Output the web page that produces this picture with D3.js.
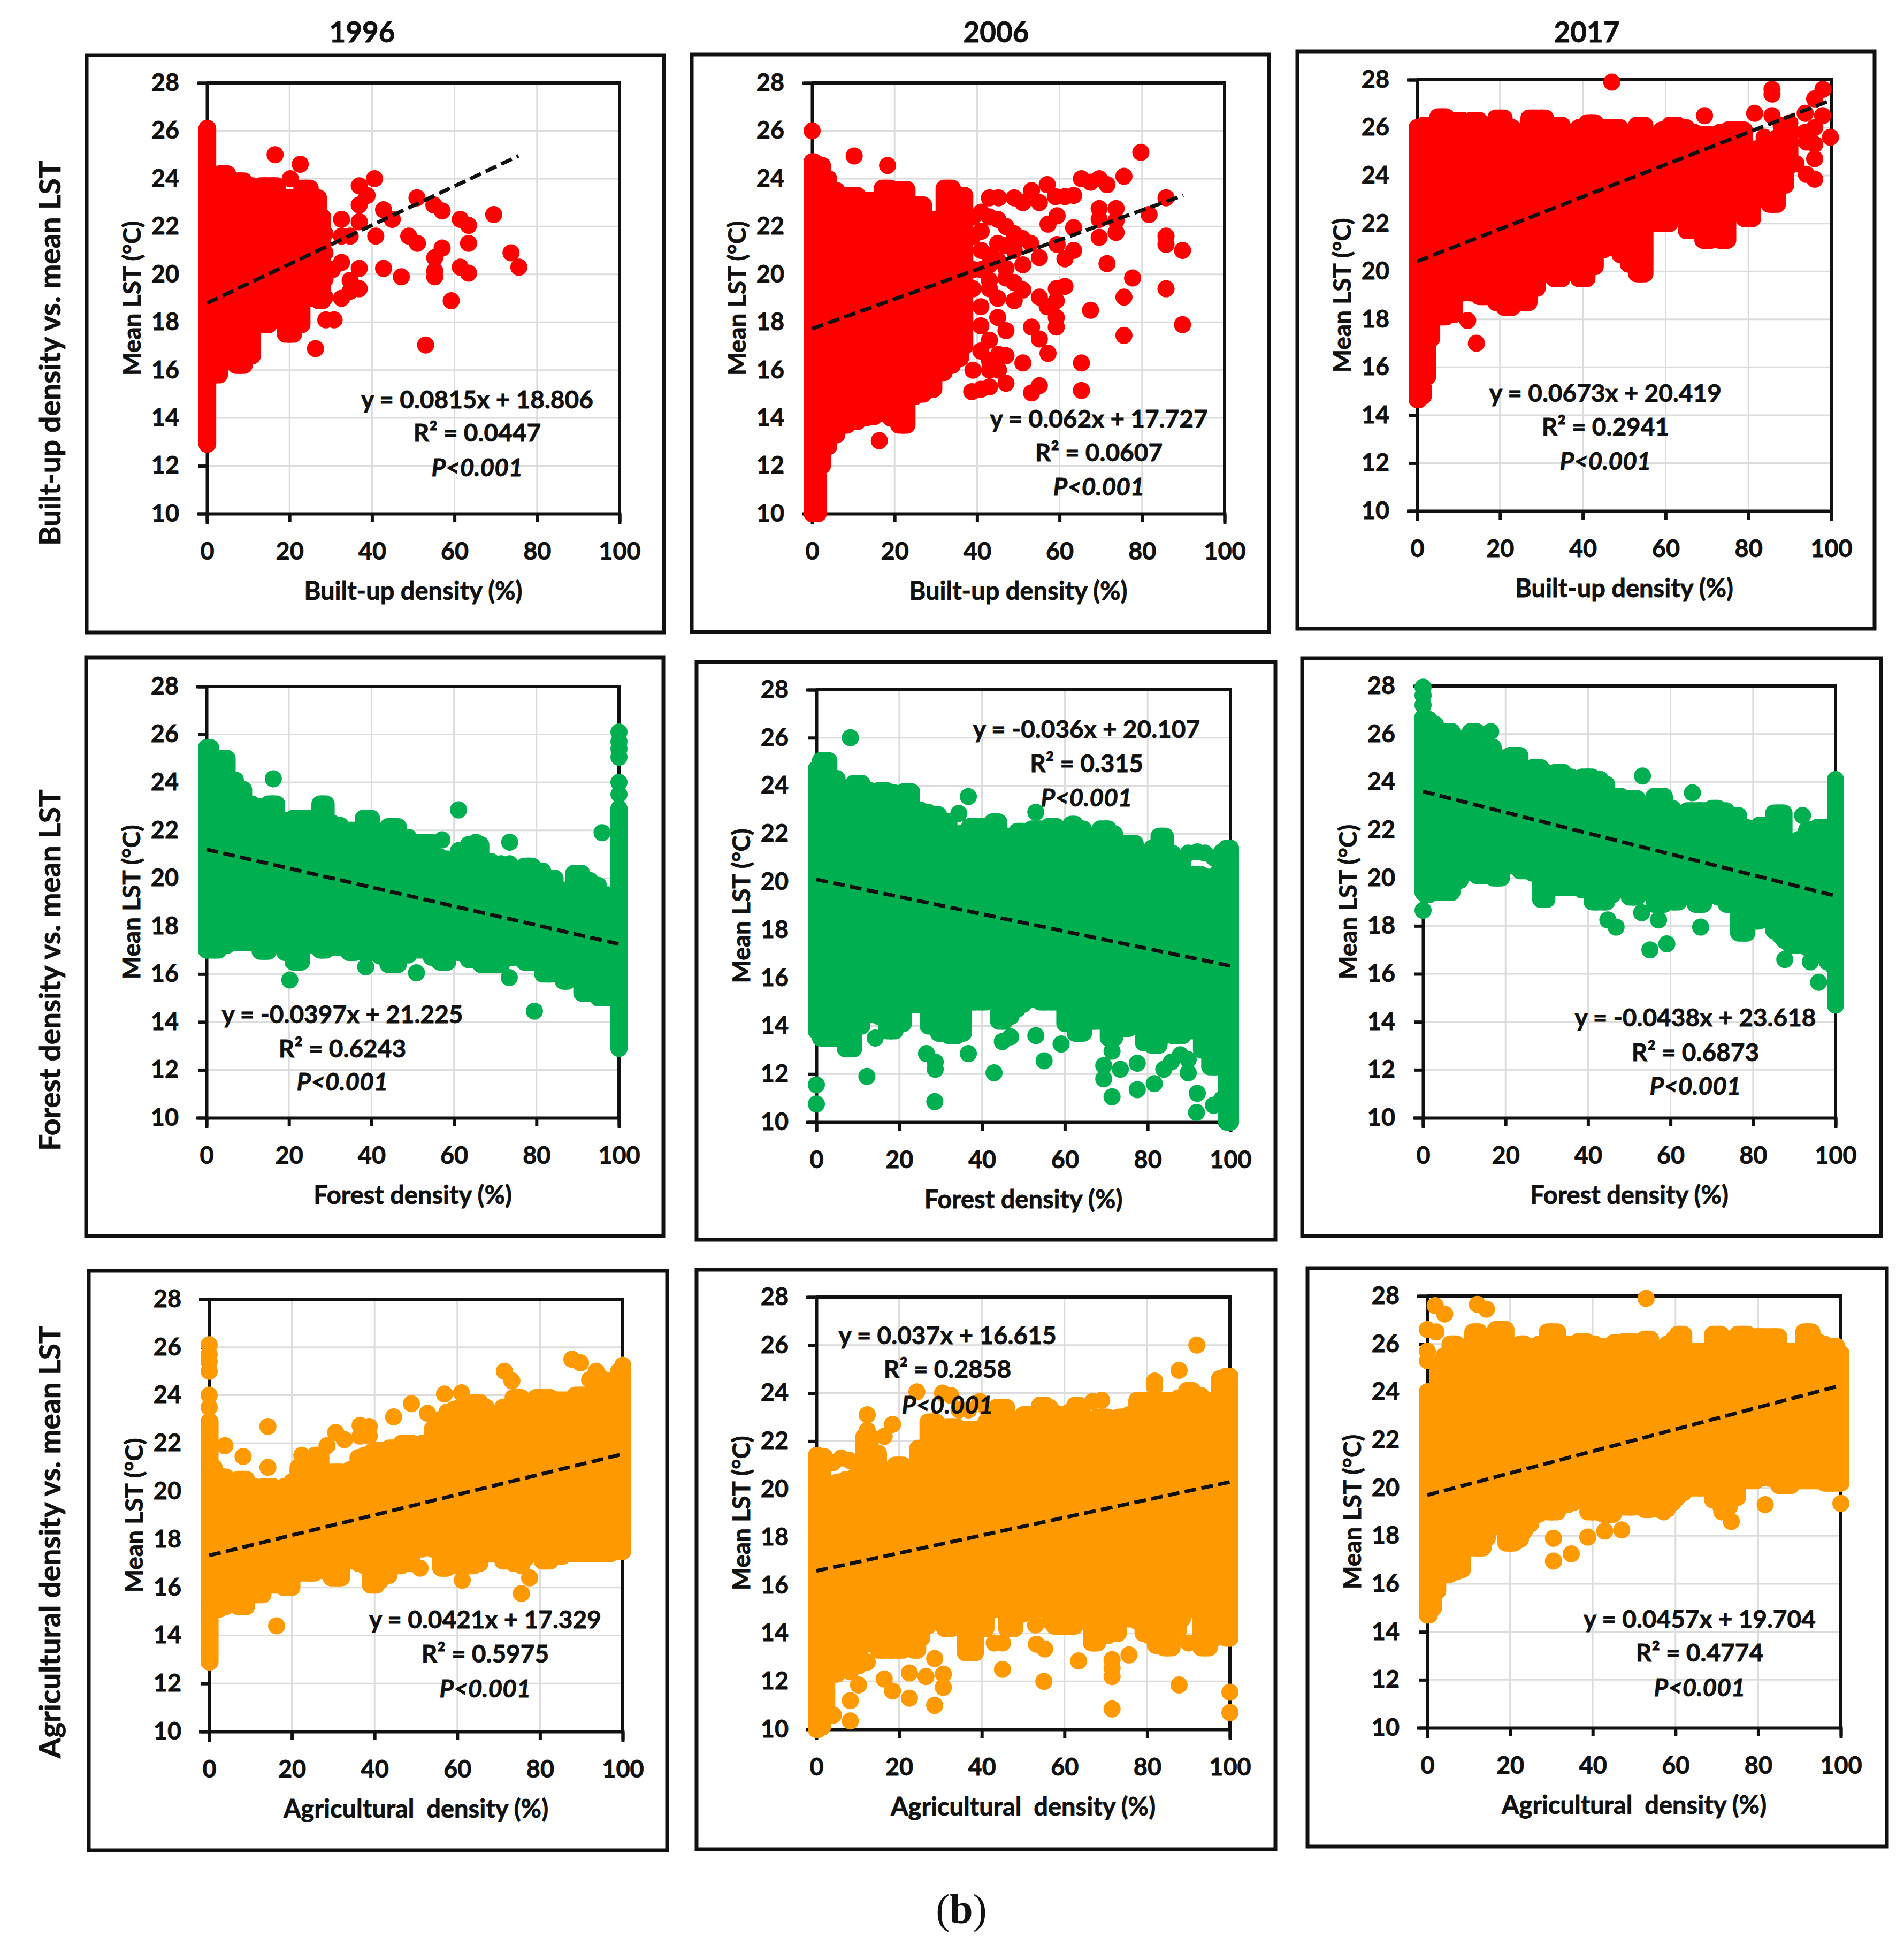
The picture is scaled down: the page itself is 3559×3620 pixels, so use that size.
<!DOCTYPE html>
<html lang="en">
<head>
<meta charset="UTF-8">
<title>Density vs. mean LST</title>
<script src="https://d3js.org/d3.v7.min.js"></script>
<style>
html, body { margin: 0; background: #fff; }
text { font-family: Lato, "Open Sans", sans-serif; font-weight: 700; fill: #111; stroke: #111; stroke-width: 0.8px; }
</style>
</head>
<body>
<div id="chart"></div>
<script>
var yearLabels = ["1996", "2006", "2017"];
var rowLabels = ["Built-up density vs. mean LST", "Forest density vs. mean LST", "Agricultural density vs. mean LST"];
var xTitles = ["Built-up density (%)", "Forest density (%)", "Agricultural  density (%)"];
var yTitle = "Mean LST (°C)";
var xTicks = [0, 20, 40, 60, 80, 100];
var yTicks = [10, 12, 14, 16, 18, 20, 22, 24, 26, 28];

// the clouds are solid colour in the picture, single points can't be told apart inside,
// so each one is read as its outline: [x, lowest y, highest y]. Points that stand alone are in the *Dots arrays.
var built1996Cloud = [[0,12.9,26.1],[0.3,15.8,24.0],[2,15.8,24.0],[4,16.5,24.2],[6,16.6,23.4],[8,16.2,23.9],[10,16.6,23.7],[12,18.1,23.4],[14,17.9,23.7],[16,18.3,23.7],[18,18.1,23.0],[20,17.5,23.2],[22,17.9,23.0],[24,19,23.6],[26,19,23.2],[28,18.9,22.4]];
var built1996Dots = [[16.5,25],[22.6,24.6],[20.2,24],[40.6,24],[36.9,23.7],[38.8,23.3],[36.9,22.9],[50.9,23.2],[42.8,22.7],[44.9,22.3],[55,22.9],[57,22.65],[61.4,22.3],[63.4,22.05],[69.5,22.5],[32.6,22.3],[36.9,22.2],[32.6,21.6],[34.7,21.6],[40.9,21.6],[48.9,21.6],[51,21.3],[63.4,21.3],[57,21.1],[73.7,20.9],[55.2,20.7],[75.6,20.3],[61.4,20.3],[63.4,20.05],[55.2,20.15],[55.2,19.9],[42.8,20.25],[47.1,19.9],[36.9,20.25],[32.6,20.5],[34.7,19.75],[36.9,19.4],[34.7,19.3],[32.6,19],[59.2,18.9],[28.8,18.1],[30.8,18.1],[26.3,16.9],[53,17.05],[28.6,21.7],[28.6,20.9],[28.6,19.8],[30.4,20.2],[28.6,19.05],[22.4,18.3],[10.2,17.4]];
var built2006Cloud = [[0,10,24.7],[1,10,24.6],[2,12,24.55],[3,12.8,24],[5,13.3,23.5],[7,13.7,23.2],[10,13.85,23.3],[12,14,22.8],[14,14.05,23.1],[16,14.2,22.9],[18,14.6,23.6],[20,14,23],[22,13.7,23.55],[24,14.9,22.9],[26,15,22.9],[28,15.2,22.2],[31,15.9,22.3],[33,16.2,23.6],[35,16.5,22.9],[37,17,23.3]];
var built2006Dots = [[0,26],[10.2,24.95],[18.3,24.55],[79.7,25.1],[75.6,24.1],[65.3,24],[67.5,23.85],[69.6,24],[71.5,23.75],[57,23.75],[53.2,23.5],[59,23.25],[61.3,23.25],[63.4,23.3],[43,23.2],[45.2,23.2],[49,23.2],[51.1,23],[55.1,23],[85.8,23.2],[69.6,22.75],[73.7,22.75],[81.7,22.5],[59.4,22.45],[69.6,22.3],[73.7,22.25],[63.4,21.95],[57.2,22.1],[73.7,21.75],[69.6,21.55],[85.8,21.6],[85.8,21.25],[89.8,21],[63.4,21],[61.3,20.65],[59.4,21.25],[55.1,20.7],[51.1,20.4],[71.5,20.45],[77.7,19.85],[61.3,19.5],[59.2,19.4],[85.8,19.4],[55.1,19.05],[75.6,19.05],[59.2,18.9],[57,18.65],[67.5,18.5],[59.2,18.2],[45,18.2],[59.2,17.8],[53.2,17.8],[89.8,17.9],[47,17.65],[55.1,17.3],[75.6,17.45],[43,17.25],[40.9,17.85],[57.2,16.7],[40.9,16.8],[51.1,16.3],[65.3,16.3],[47,16.6],[45.2,16.65],[43,16.4],[39,16],[43,16],[45.2,16],[47,15.45],[43,15.3],[40.9,15.2],[38.7,15.1],[55.1,15.35],[53.2,15.05],[65.3,15.15],[16.3,13.05],[49,18.9],[45,19],[43,19.4],[43,19.75],[47,19.85],[49,19.65],[51.1,19.35],[47,20.25],[40.9,18.65],[39,19.4],[30.4,17.2],[32.8,16.6],[34.7,16.8],[36.6,17.1],[35.2,18.3],[36.6,18.2],[30.4,15.9],[39,21.6],[41,21.8],[41,21],[43,22.4],[45,22.3],[47,22],[49,21.7],[45,21.3],[47,21.2],[49,21],[43,20.8],[45,20.6],[51,21.5],[41,20.2],[39,20.2],[43,20.4],[53,21.3],[39,22.4],[41,22.6]];
var built2017Cloud = [[0,14.65,26],[1,14.8,26],[2,15.6,26.1],[3,17.2,25.9],[4,18.2,25.8],[6,18.1,26.45],[8,18.2,25.7],[10,19.1,26.3],[12,19.2,25.6],[14,19.1,26.3],[16,18.95,25.7],[18,19.3,25.8],[20,18.7,26.4],[22,18.5,26],[24,19.5,25.2],[26,18.7,25.1],[28,19.3,26.4],[30,20.3,26.4],[32,20.2,25.5],[34,19.7,26.1],[36,20.2,25.4],[38,20.3,25.8],[40,19.7,26],[42,20.2,26.2],[44,20.9,25.5],[46,21.2,26],[48,21,26],[50,20.7,25.8],[52,20.3,25.5],[54,19.9,26.1],[56,22.2,25.4],[58,22,25.2],[60,22,25.9],[62,22.2,26.1],[64,22.8,26],[66,21.7,25.8],[68,21.8,25.6],[70,21.3,25.7],[72,21.8,25.6],[74,21.3,25.8],[76,22.6,25.9],[78,22.7,25.9],[80,22.2,25],[82,23.6,25.1],[84,23.4,25.2],[86,22.8,25.3],[88,23.6,25.6],[90,24.4,26]];
var built2017Dots = [[85.7,27.6],[85.7,27.4],[47,27.9],[98,27.6],[96,27.2],[93.7,26.6],[97.9,26.5],[96,26],[81.5,26.6],[85.7,26.5],[69.4,26.5],[99.8,25.6],[94,25.4],[96,25.3],[90,26.2],[87.9,26.1],[96,24.7],[96,23.85],[94,24.05],[91.5,24.5],[87.9,23.6],[85.7,22.8],[87.9,24.7],[90,25.3],[83.8,25.6],[54.1,20.9],[54.1,21.5],[52.7,20.4],[50.7,20.75],[14.3,17],[12.2,17.95],[93.7,25.8]];

var forest1996Cloud = [[0,17,25.45],[2,17,24.6],[4,17.2,25],[6,17.3,24.1],[8,17.3,23.7],[10,17.3,23.1],[12,17.3,23],[14,16.95,22.9],[16,17.4,23.1],[18,17.5,22.3],[20,16.9,22.4],[22,16.5,22.5],[24,17.3,22.5],[27,17.2,22.4],[28,17,23.1],[30,17.1,22.3],[31,17.2,22.2],[34,17.1,22],[35,16.9,22],[37,17,21],[39,16.9,22.5],[41,17.3,21.3],[43,16.75,21.3],[45,16.4,22.15],[48,16.8,21.7],[50,17,21.3],[53,17,21.5],[56,16.7,20.9],[57,16.5,20.8],[60,17.2,20.6],[62,16.9,20.5],[65,16.6,21.4],[68,16.4,20.7],[70,16.4,20.5],[73,16.7,20.3],[76,16.9,19.9],[78,16.5,20.5],[80,16.5,20.3],[83,16,20],[86,16,19.5],[87,15.7,19.2],[88,15.9,19],[90,16,20.2],[92,15.2,19.9],[94,15.3,19.7],[96,15,19.3],[99,15.3,19.2],[100,15.3,19.2],[100,12.9,22.9]];
var forest1996Dots = [[16.2,24.15],[61.1,22.85],[95.9,21.9],[61.1,21.15],[57.1,21.6],[73.5,21.5],[65.3,21.5],[71.4,20.6],[73.5,20.6],[20.2,15.75],[38.6,16.3],[50.9,16.05],[73.4,15.85],[79.5,14.45],[48.9,16.8],[100,26.1],[100,25.7],[100,25.4],[100,25.05],[100,24],[100,23.5]];
var forest2006Cloud = [[0,13.8,24.7],[2,13.5,25.05],[4,13.5,24.3],[6,13.6,23.8],[8,13.05,23.8],[10,14,24.1],[12,15,23.8],[14,14.5,23.7],[16,14.4,23.8],[18,13.8,23.7],[20,14.1,23.6],[22,15,23.75],[24,14.9,23],[26,15,22.9],[28,14,22.8],[31,13.7,22.5],[33,13.6,21.9],[35,13.7,22],[36,15,22],[38,15,22.3],[40,15,22.3],[42,15.3,21.7],[43,15.2,22.5],[45,14.2,21.9],[46,14.4,21.9],[48,14.7,21.7],[49,14.9,22.1],[51,15.1,21.8],[53,15.1,22.2],[55,15,21.7],[57,15,22.3],[59,15.2,21.7],[61,14.1,21.7],[62,14.1,22.4],[63,13.7,22.2],[66,14.4,21.6],[67,14.2,21.6],[70,14.6,22.2],[71,13.5,22],[73,14,21.6],[75,13.9,21.1],[76,14,21.6],[78,14,20.9],[80,13.3,20.9],[82,13.2,21.4],[83.5,13.6,21.9],[85,13.9,21.2],[87,13.6,20.8],[90,13.8,20.3],[92,14.5,20.3],[94,13,20.2],[96,12.3,20.2],[98,13,20.4],[100,10,21.4]];
var forest2006Dots = [[8.2,26],[36.7,23.55],[34.4,22.85],[53,22.9],[14.2,13.5],[12.2,11.9],[0,11.55],[0,10.75],[26.6,12.85],[28.7,12.5],[28.7,12.2],[28.6,10.85],[36.7,12.85],[42.9,12.05],[44.9,13.35],[46.9,13.55],[53,13.6],[59.1,13.25],[55,12.55],[71.4,12.95],[69.4,12.35],[69.4,11.8],[73.4,12.2],[77.5,12.45],[77.5,11.35],[71.4,11.05],[81.6,11.6],[83.9,12.2],[85.7,12.5],[87.9,12.8],[89.8,12.05],[89.8,12.6],[92,11.2],[91.8,10.4],[95.9,10.7],[97.9,10.95],[89.8,21.2],[92,21.25],[93.8,21.2],[96,21],[97.9,21.25]];
var forest2017Cloud = [[0,19.4,26.7],[1,19.3,26.6],[2,20,26.4],[4,19.4,25.8],[6,19.4,26.1],[8,19.9,25.8],[10,20.2,25.6],[11,20.3,25.5],[12,20.3,26.1],[14,20.1,25.1],[16,20.6,25.45],[18,20,25],[20,20.6,25],[22,20.5,25.1],[25,20.3,24.5],[28,20.2,24.6],[29,19.1,24.4],[31,19.6,24.2],[33,19.6,24.4],[35,19.6,24.2],[37,19.6,23.7],[40,19.5,24.2],[42,19,24.1],[44,19,23.9],[45,19.3,23.2],[47,19.5,23.4],[49,19.6,23],[51,19.2,23.3],[53,19.6,22.7],[55,20,22.8],[57,18.9,23.4],[60,19.4,22.9],[61,19,22.7],[63,19.8,22.5],[65,20,22.8],[67,18.9,22.8],[69,19.4,22.8],[71,19.3,22.9],[72,19.2,22.8],[75,18.9,22.6],[78,17.7,22.1],[79,18.7,21.8],[80,18.6,21.5],[81,18.2,22],[82,18.4,22.2],[84,18.7,21.4],[86,17.8,22.7],[87,17.6,22.7],[88,17.4,21.5],[90,17.2,21.5],[92,17.2,21.6],[94,17.1,22],[97,16.8,22.1],[99,16.5,21.5],[100,16.3,21.5],[100,14.7,23.9]];
var forest2017Dots = [[0,27.95],[0,27.6],[0,27.2],[0,18.65],[16.4,26.1],[53.2,24.25],[65.3,23.55],[92,22.6],[87.7,16.6],[93.9,16.5],[95.9,15.65],[44.8,18.25],[46.8,17.95],[53,18.55],[57.1,18.25],[67.3,17.95],[55,17],[59.1,17.25],[77.5,17.8],[100,24.1]];

var agri1996Cloud = [[0,12.9,22.9],[0.4,15.1,21],[2,15.1,19.7],[3,15.2,20.6],[5,15.6,20.1],[6,15.5,20],[8,15.2,20.5],[10,15.7,20.2],[12,15.7,20.1],[14,16.1,20.2],[17,16.1,20.1],[19,16,20.2],[21,16.6,20.4],[22,16.6,21],[24,16.6,20.5],[25,16.6,20.7],[26,16.7,21.5],[28,16.7,20.7],[31,16.4,20.8],[33,17.1,20.7],[35,17.1,20.9],[37,17,21.4],[38,16.9,21.5],[40,16.1,21.6],[41,16.3,21.7],[42,16.5,21.7],[45,16.9,21.8],[48,17,22],[50,17.6,21.4],[53,17.8,22],[55,17.6,22.6],[57,16.8,23],[58,17,23.3],[60,16.9,23.4],[61,16.9,23.5],[63,16.9,23],[65,17,23.7],[66,17.4,23.5],[68,17.4,23.2],[70,17.4,22.8],[72,17.1,23.5],[75,17,23.9],[76,17.2,22.9],[77,17.5,23.2],[78,17.5,23.6],[80,17.6,23.9],[81,17.1,23.9],[84,17.3,23.8],[87,17.4,23.8],[90,17.4,24],[92,17.4,23.5],[94,17.4,24.7],[96,17.4,24],[98,17.5,24.6],[100,17.5,25]];
var agri1996Dots = [[0,26.1],[0,25.7],[0,25.4],[0,25],[0,24],[0,23.5],[87.7,25.5],[89.8,25.35],[100,25.25],[93.6,25],[71.4,25],[73.2,24.6],[92,24.65],[14.2,22.7],[3.8,21.9],[8.2,21.45],[14.2,21],[22.4,21.5],[28.5,21.9],[30.6,22.45],[32.7,22.15],[36.5,22.75],[38.7,22.7],[38.7,22.3],[36.5,22.3],[44.6,23.1],[48.9,23.65],[52.8,23.25],[56.9,24.05],[61,24.1],[65,23.65],[77.5,16.4],[75.5,15.75],[75.5,16.9],[61.2,16.3],[51,16.8],[16.3,14.4]];
var agri2006Cloud = [[0,10,21.4],[1,10.1,21.3],[2,11,20.1],[3,12.4,20.1],[4,12.3,20.2],[6,12.5,20.3],[8,13.2,20.4],[10,13.3,20.5],[11,13.5,20.8],[12,13.6,22.2],[14,13.7,21.5],[16,13.3,20.7],[18,13.3,20.5],[20,13.3,21],[22,14,20.6],[23,13.6,20.2],[24,13.3,20.8],[25,13.8,21.7],[26,14.3,21.7],[28,14.5,22.8],[30,14.9,22.4],[32,14.2,22.6],[33,14.6,22.6],[35,15,22.5],[37,13.2,22.5],[40,14.2,22.5],[42,15.2,22.8],[45,15,23.4],[47,14.2,22.8],[49,14.8,22.9],[51,15,23.1],[53,15,22.5],[55,15.2,23.5],[56,15.3,23.4],[57,14.5,23.2],[58,14.3,23.1],[60,14.3,22.9],[62,14.3,23.2],[63,14.7,23.5],[64,15,23.1],[65,14.9,22.6],[66,14.8,22.8],[67,13.6,22.9],[69,13.9,23],[70,13.9,23],[71,14,22.8],[72,14,22.8],[74,15,23],[77,14.6,23.1],[78,14.5,23.7],[80,14,23.7],[81,13.9,23.6],[83,13.5,23.6],[85,13.4,23.7],[87,14.1,23.7],[88,14.6,23.8],[89,15,23.8],[90,15,24.1],[92,15,23.9],[94,13.4,23.7],[96,13.8,23.5],[97,14.3,23.4],[98,14.8,24.6],[100,13.8,24.7]];
var agri2006Dots = [[2,21.35],[4,21.1],[6,21.3],[8,21.2],[10,21.1],[11,21.1],[92,26],[87.7,24.95],[81.8,24.5],[81.8,24.25],[69,23.7],[66.8,23.65],[12.3,23.1],[12.3,22.45],[16.4,22.2],[18.4,22.7],[24.3,24.05],[30.5,24],[32.5,23.9],[34.5,23.3],[36.8,23.3],[39.5,23.65],[41.2,23.35],[28.6,12.95],[30.7,12.3],[30.7,11.75],[26.5,12.2],[22.5,12.35],[22.5,11.3],[28.6,11],[16.4,12.1],[18.4,11.6],[10.2,11.85],[8.2,11.2],[8.2,10.35],[4.1,10.6],[1.8,10.9],[12.3,12.8],[10.3,12.65],[8.2,12.4],[43,13.6],[45,13.6],[45,12.5],[47,14.2],[53,14.35],[53.2,13.55],[55.2,13.35],[55,12],[63.4,12.85],[71.5,12.9],[71.5,12.55],[71.5,12.2],[71.5,10.85],[75.6,13.1],[87.7,11.85],[90,13.6],[100,11.55],[100,10.7],[32.7,14.2]];
var agri2017Cloud = [[0,14.7,24],[1,15,24],[2,15.7,24],[3,16.6,25],[5,16.4,25.5],[6,16.5,26],[8,16.6,25.2],[9,17.6,25.4],[10,17.5,25.9],[12,17.5,26.5],[13,17.5,25.9],[14,17.9,25.7],[15,18.4,25.7],[18,18.9,26.6],[20,17.7,25.5],[22,17.9,25.8],[23,18.2,26],[24,18.5,25.9],[26,18.9,25.8],[28,19.2,26],[30,19,26.5],[33,19.3,26],[35,19.4,25.5],[36,19.5,25.8],[37,19.6,26.1],[38,19.7,26.1],[39,19.3,26],[40,19,26],[41,19,25.9],[44,18.9,25.5],[46,19.7,26.05],[49,19.2,26.1],[51,19.6,25.6],[52,19.8,25.9],[53,19.1,26.2],[55,19.6,25.7],[57,19.1,25.5],[59,19.4,26],[60,19.6,26.2],[61,19.8,26.4],[63,20,25.4],[66,20,25.7],[68,20.2,25.2],[70,19.5,26.4],[72,19.2,26.2],[74,19.6,25.5],[76,20.3,26.4],[79,20.3,25.7],[80,20.4,26.3],[81,20.5,26.3],[84,20.4,26.3],[86,20.1,25.7],[90,20.3,25.7],[92,20.3,26.5],[94,20.3,26.1],[95,20.3,26],[97,20.2,25.9],[98,20.2,25.9],[100,20.2,25.6]];
var agri2017Dots = [[1.9,27.6],[4.2,27.25],[12.1,27.65],[14.3,27.45],[52.9,27.9],[0,26.6],[2.1,26.5],[0,25.7],[0,25.3],[100,19.35],[81.7,19.3],[73.5,18.6],[71.2,19],[57.2,19],[47,18.25],[42.9,18.2],[38.8,17.95],[30.5,17.9],[30.5,16.95],[34.8,17.25],[38.8,19],[42.9,18.9],[2.1,15.65],[22.5,17.85]];

var trendEnds = [
    [[0,18.8],[75.5,24.95]], [[0,17.73],[90,23.3]], [[0,20.42],[100,27.15]],
    [[0,21.2],[100,17.25]], [[0,20.1],[100,16.5]], [[0,23.6],[100,19.25]],
    [[0,17.33],[100,21.55]], [[0,16.6],[100,20.3]], [[0,19.7],[100,24.27]]
];
var equations = [
    "y = 0.0815x + 18.806", "y = 0.062x + 17.727", "y = 0.0673x + 20.419",
    "y = -0.0397x + 21.225", "y = -0.036x + 20.107", "y = -0.0438x + 23.618",
    "y = 0.0421x + 17.329", "y = 0.037x + 16.615", "y = 0.0457x + 19.704"
];
var rSquared = ["R² = 0.0447", "R² = 0.0607", "R² = 0.2941", "R² = 0.6243", "R² = 0.315", "R² = 0.6873", "R² = 0.5975", "R² = 0.2858", "R² = 0.4774"];
var pValue = "P<0.001";

var clouds = [built1996Cloud, built2006Cloud, built2017Cloud, forest1996Cloud, forest2006Cloud, forest2017Cloud, agri1996Cloud, agri2006Cloud, agri2017Cloud];
var dots = [built1996Dots, built2006Dots, built2017Dots, forest1996Dots, forest2006Dots, forest2017Dots, agri1996Dots, agri2006Dots, agri2017Dots];
var rowColors = ["#ff0000", "#00b050", "#ff9900"];

// pixel layout, the panels in the figure are pasted in slightly out of line
// frame [x0,y0,x1,y1], plot [x0,y0,x1,y1], stat [centre x, first line y, second, third]
var layout = [
    {frame:[162,103,1241,1182], plot:[387,155,1158,960],   stat:[892,745,807,872]},
    {frame:[1293,102,2372,1181], plot:[1518,155,2289,960], stat:[2054,781,844,908]},
    {frame:[2425,96,3504,1175], plot:[2649,149,3423,955],  stat:[3001,733,796,860]},
    {frame:[161,1229,1240,2310], plot:[386,1283,1157,2089], stat:[640,1894,1958,2020]},
    {frame:[1302,1237,2384,2317], plot:[1526,1289,2300,2097], stat:[2031,1361,1425,1489]},
    {frame:[2434,1230,3516,2310], plot:[2660,1282,3431,2089], stat:[3169,1900,1965,2028]},
    {frame:[166,2375,1247,3458], plot:[391,2428,1164,3236], stat:[907,3025,3089,3154]},
    {frame:[1302,2373,2384,3456], plot:[1526,2424,2299,3232], stat:[1771,2494,2557,2624]},
    {frame:[2444,2370,3527,3451], plot:[2668,2422,3441,3229], stat:[3177,3024,3087,3152]}
];
var titlePos = [677, 1862, 2966];
var rowLabelY = [660, 1813, 2882];
var dotR = 16;

var svg = d3.select("#chart").append("svg")
    .attr("width", 3559).attr("height", 3620)
    .style("display", "block");

yearLabels.forEach(function (d, i) {
    svg.append("text").attr("x", titlePos[i]).attr("y", 58)
        .attr("text-anchor", "middle").attr("dominant-baseline", "central")
        .attr("font-size", 53).text(d);
});

rowLabels.forEach(function (d, i) {
    svg.append("text")
        .attr("transform", "translate(92," + rowLabelY[i] + ") rotate(-90)")
        .attr("text-anchor", "middle").attr("dominant-baseline", "central")
        .attr("font-size", 55).text(d);
});

layout.forEach(function (box, i) {
    var row = Math.floor(i / 3);
    var color = rowColors[row];

    svg.append("rect")
        .attr("x", box.frame[0]).attr("y", box.frame[1])
        .attr("width", box.frame[2] - box.frame[0]).attr("height", box.frame[3] - box.frame[1])
        .attr("fill", "none").attr("stroke", "#111").attr("stroke-width", 7);

    var x = d3.scaleLinear().domain([0, 100]).range([box.plot[0], box.plot[2]]);
    var y = d3.scaleLinear().domain([10, 28]).range([box.plot[3], box.plot[1]]);
    var g = svg.append("g");

    // gridlines
    g.selectAll(".gx").data(xTicks.slice(1)).enter().append("line")
        .attr("x1", x).attr("x2", x).attr("y1", box.plot[1]).attr("y2", box.plot[3])
        .attr("stroke", "#dcdcdc").attr("stroke-width", 3);
    g.selectAll(".gy").data(yTicks.slice(1)).enter().append("line")
        .attr("y1", y).attr("y2", y).attr("x1", box.plot[0]).attr("x2", box.plot[2])
        .attr("stroke", "#dcdcdc").attr("stroke-width", 3);

    // top and right side of the plot
    g.append("path")
        .attr("d", "M" + x(0) + "," + y(28) + "H" + x(100) + "V" + y(10))
        .attr("fill", "none").attr("stroke", "#111").attr("stroke-width", 6);

    var xAxis = g.append("g").attr("transform", "translate(0," + box.plot[3] + ")")
        .call(d3.axisBottom(x).tickValues(xTicks).tickSize(16).tickPadding(38));
    var yAxis = g.append("g").attr("transform", "translate(" + box.plot[0] + ",0)")
        .call(d3.axisLeft(y).tickValues(yTicks).tickSize(16).tickPadding(36));
    [xAxis, yAxis].forEach(function (a) {
        a.attr("font-family", null).attr("font-size", null);
        a.selectAll("path, line").attr("stroke", "#111").attr("stroke-width", 6);
        a.select(".domain").attr("stroke-linecap", "square");
        a.selectAll("text").attr("font-size", 45).attr("fill", "#111");
    });

    // cloud outline filled in columns, with the round point size on its edge
    var area = d3.area()
        .x(function (d) { return x(d[0]); })
        .y0(function (d) { return y(d[1]); })
        .y1(function (d) { return y(d[2]); })
        .curve(d3.curveStep);
    g.append("path").datum(clouds[i]).attr("d", area)
        .attr("fill", color).attr("stroke", color)
        .attr("stroke-width", dotR * 2).attr("stroke-linejoin", "round");

    var edgePoints = [];
    clouds[i].forEach(function (d) {
        edgePoints.push([d[0], d[1]], [d[0], d[2]]);
    });
    g.selectAll(".edge").data(edgePoints.concat(dots[i])).enter().append("circle")
        .attr("cx", function (d) { return x(d[0]); })
        .attr("cy", function (d) { return y(d[1]); })
        .attr("r", dotR).attr("fill", color);

    // trendline
    g.append("path").datum(trendEnds[i])
        .attr("d", d3.line().x(function (d) { return x(d[0]); }).y(function (d) { return y(d[1]); }))
        .attr("fill", "none").attr("stroke", "#111").attr("stroke-width", 7)
        .attr("stroke-dasharray", "22,10");

    g.append("text").attr("x", (box.plot[0] + box.plot[2]) / 2).attr("y", box.plot[3] + 143)
        .attr("text-anchor", "middle").attr("dominant-baseline", "central")
        .attr("font-size", 47).style("white-space", "pre").text(xTitles[row]);
    g.append("text")
        .attr("transform", "translate(" + (box.plot[0] - 142) + "," + ((box.plot[1] + box.plot[3]) / 2) + ") rotate(-90)")
        .attr("text-anchor", "middle").attr("dominant-baseline", "central")
        .attr("font-size", 46).text(yTitle);

    [equations[i], rSquared[i], pValue].forEach(function (t, k) {
        g.append("text").attr("x", box.stat[0]).attr("y", box.stat[k + 1])
            .attr("text-anchor", "middle").attr("dominant-baseline", "central")
            .attr("font-size", 46).attr("font-style", k == 2 ? "italic" : "normal")
            .text(t);
    });
});

var caption = svg.append("text").attr("x", 1797).attr("y", 3567)
    .attr("text-anchor", "middle").attr("dominant-baseline", "central")
    .style("font-family", "'Liberation Serif', serif").style("font-weight", 400).style("stroke", "none")
    .attr("font-size", 78);
caption.append("tspan").text("(");
caption.append("tspan").style("font-weight", 700).text("b");
caption.append("tspan").text(")");
</script>
</body>
</html>
